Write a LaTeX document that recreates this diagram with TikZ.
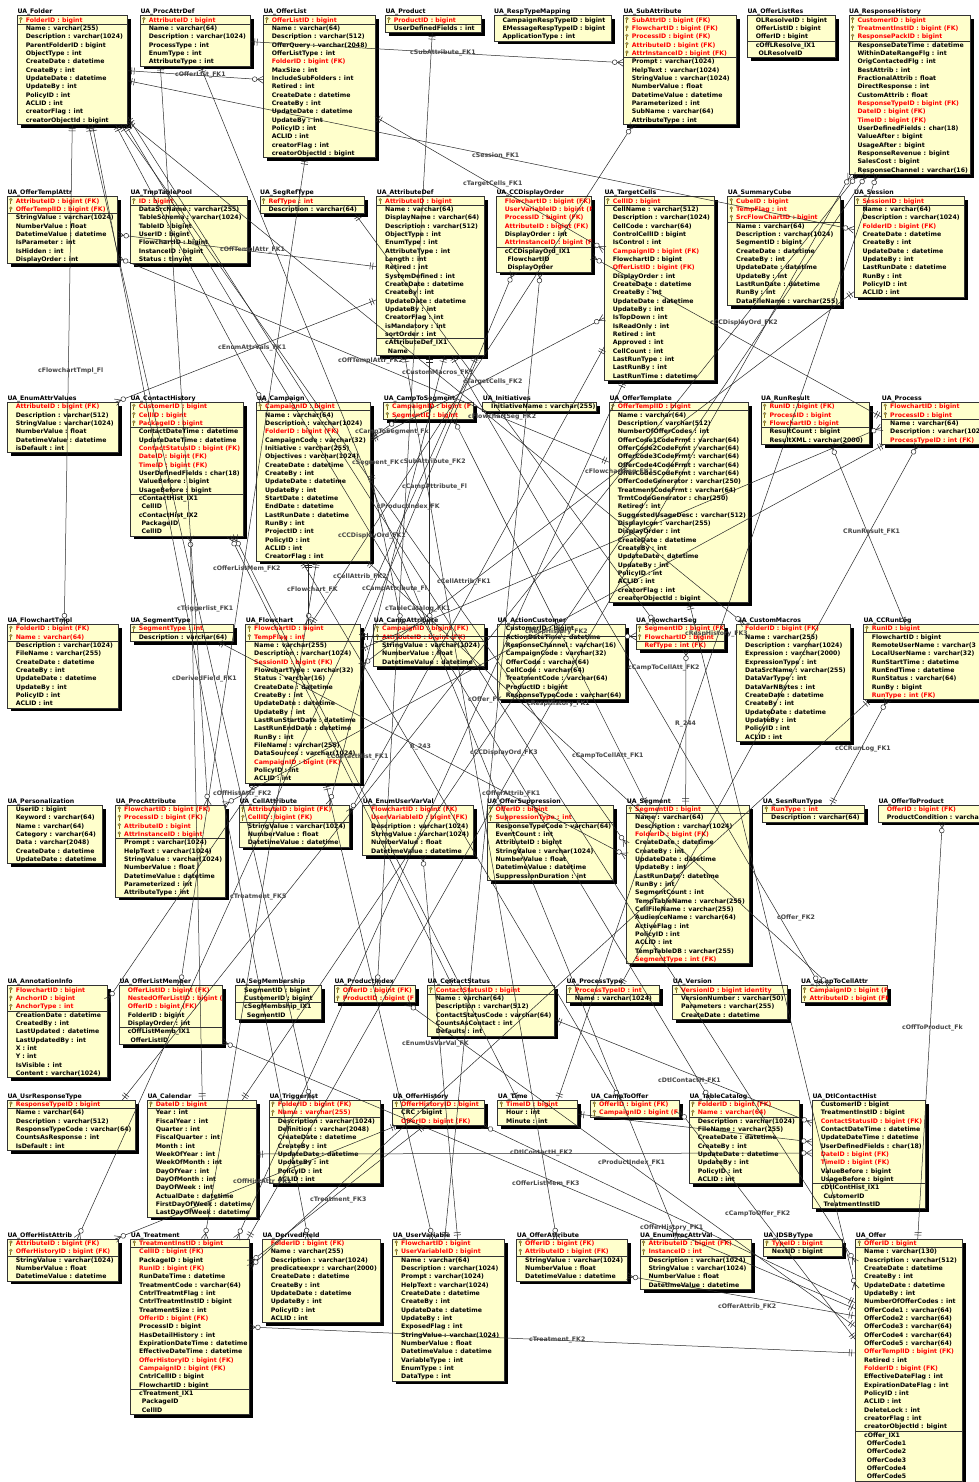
\documentclass[tikz,border=0pt]{standalone}
\usepackage{fontspec}
\setmainfont{DejaVu Sans}
\usetikzlibrary{shadows,decorations.markings}
\definecolor{boxfill}{RGB}{255,255,204}
\definecolor{lblc}{RGB}{70,70,70}
\definecolor{keyc}{RGB}{190,160,40}
\definecolor{lnc}{RGB}{40,40,40}
\def\rtk{k}\def\rtr{r}\def\rtb{b}\def\rti{i}
\tikzset{
 tbox/.style={draw=black!80, line width=0.6pt, fill=boxfill, inner sep=0pt, outer sep=0pt,
   drop shadow={shadow xshift=3.5pt, shadow yshift=-3.5pt, fill=black, opacity=1}},
 ttl/.style={font=\bfseries\fontsize{6.2}{7}\selectfont, inner sep=0pt, anchor=base west},
 rowb/.style={font=\bfseries\fontsize{6.2}{7}\selectfont, inner sep=0pt, anchor=base west, text=black},
 rowk/.style={rowb, text=red},
 rowr/.style={rowb, text=red},
 rowi/.style={rowb, xshift=2.7pt},
 sepl/.style={draw=black!80, line width=0.6pt},
 lbl/.style={font=\bfseries\fontsize{6.2}{7}\selectfont, text=lblc, inner sep=0pt, anchor=west},
 lk/.style={draw=lnc, line width=0.5pt},
 rel/.style={lk, postaction={decorate, decoration={markings,
   mark=at position 0 with {\draw[lk] (4,-3.5)--(4,3.5) (6.5,-3.5)--(6.5,3.5);},
   mark=at position 1 with {\draw[lk] (-6,0)--(0,3.5) (-6,0)--(0,-3.5); \draw[lk,fill=white] (-8.6,0) circle (2.4);}}}},
}
\newcommand\keyicon[2]{\fill[keyc,draw=black!60,line width=0.25pt] ({#1},{#2-1.3}) circle (1.45);
 \draw[keyc!70!black,line width=0.9pt] ({#1},{#2+0.1})--({#1},{#2+2.9});}
\newcommand\tbl[8]{%
 \pgfmathsetmacro\tblh{8.6+(#6-1)*8.333}%
 \node[tbox, anchor=north west, minimum width=#5pt, minimum height=\tblh pt] (#1) at (#3,#4) {};
 \node[ttl] (#1-t) at (#3,{#4-1.8}) {#2};
 \begin{scope}
  \clip (#3,#4) rectangle ++(#5,\tblh);
  \foreach \t/\s [count=\i] in {#8} {%
   \pgfmathsetmacro\ry{#4+4.3+(\i-1)*8.333}%
   \edef\rt{\t}%
   \ifx\rt\rtk \keyicon{#3+3.6}{\ry}\node[rowk] (#1-r\i) at ({#3+8.3},{\ry+2.2}) {\s};\fi
   \ifx\rt\rtr \node[rowr] (#1-r\i) at ({#3+8.3},{\ry+2.2}) {\s};\fi
   \ifx\rt\rtb \node[rowb] (#1-r\i) at ({#3+8.3},{\ry+2.2}) {\s};\fi
   \ifx\rt\rti \node[rowi] (#1-r\i) at ({#3+8.3},{\ry+2.2}) {\s};\fi
  }
  \foreach \k in {#7} {\ifnum\k>0 \draw[sepl] (#3,{#4+0.15+\k*8.333}) -- ++(#5,0);\fi}
 \end{scope}
}
\newcommand\PE[2]{([yshift=-#2pt]#1.north east)}
\newcommand\PW[2]{([yshift=-#2pt]#1.north west)}
\newcommand\PN[2]{([xshift=#2pt]#1.north west)}
\newcommand\PS[2]{([xshift=#2pt]#1.south west)}
\begin{document}
\begin{tikzpicture}[x=1pt,y=-1pt]
\fill[white] (0,0) rectangle (979,1482);
\useasboundingbox (0,0) rectangle (979,1482);

% ---------- row 1
\tbl{folder}{UA\_Folder}{17.3}{15.7}{110.4}{13}{1}{k/FolderID : bigint, b/Name : varchar(255), b/Description : varchar(1024), b/ParentFolderID : bigint, b/ObjectType : int, b/CreateDate : datetime, b/CreateBy : int, b/UpdateDate : datetime, b/UpdateBy : int, b/PolicyID : int, b/ACLID : int, b/creatorFlag : int, b/creatorObjectId : bigint}
\tbl{procattrdef}{UA\_ProcAttrDef}{140.3}{15.7}{110.4}{6}{1}{k/AttributeID : bigint, b/Name : varchar(64), b/Description : varchar(1024), b/ProcessType : int, b/EnumType : int, b/AttributeType : int}
\tbl{offerlist}{UA\_OfferList}{263.3}{15.7}{111.7}{17}{1}{k/OfferListID : bigint, b/Name : varchar(64), b/Description : varchar(512), b/OfferQuery : varchar(2048), b/OfferListType : int, r/FolderID : bigint (FK), b/MaxSize : int, b/IncludeSubFolders : int, b/Retired : int, b/CreateDate : datetime, b/CreateBy : int, b/UpdateDate : datetime, b/UpdateBy : int, b/PolicyID : int, b/ACLID : int, b/creatorFlag : int, b/creatorObjectId : bigint}
\tbl{product}{UA\_Product}{385.3}{15.7}{96.4}{2}{1}{k/ProductID : bigint, b/UserDefinedFields : int}
\tbl{resptypemapping}{UA\_RespTypeMapping}{494}{15.7}{117}{3}{0}{b/CampaignRespTypeID : bigint, b/EMessageRespTypeID : bigint, b/ApplicationType : int}
\tbl{subattribute}{UA\_SubAttribute}{623.3}{15.7}{113.4}{13}{5}{k/SubAttrID : bigint (FK), k/FlowchartID : bigint (FK), k/ProcessID : bigint (FK), k/AttributeID : bigint (FK), k/AttrInstanceID : bigint (FK), b/Prompt : varchar(1024), b/HelpText : varchar(1024), b/StringValue : varchar(1024), b/NumberValue : float, b/DatetimeValue : datetime, b/Parameterized : int, b/SubName : varchar(64), b/AttributeType : int}
\tbl{offerlistres}{UA\_OfferListRes}{747.3}{15.7}{87.7}{5}{3}{b/OLResolveID : bigint, b/OfferListID : bigint, b/OfferID : bigint, b/cOffLResolve\_IX1, i/OLResolveID}
\tbl{responsehistory}{UA\_ResponseHistory}{849}{15.7}{121.7}{19}{3}{k/CustomerID : bigint, k/TreatmentInstID : bigint (FK), k/ResponsePackID : bigint, b/ResponseDateTime : datetime, b/WithinDateRangeFlg : int, b/OrigContactedFlg : int, b/BestAttrib : int, b/FractionalAttrib : float, b/DirectResponse : int, b/CustomAttrib : float, r/ResponseTypeID : bigint (FK), r/DateID : bigint (FK), r/TimeID : bigint (FK), b/UserDefinedFields : char(18), b/ValueAfter : bigint, b/UsageAfter : bigint, b/ResponseRevenue : bigint, b/SalesCost : bigint, b/ResponseChannel : varchar(16)}

% ---------- row 2
\tbl{offertemplattr}{UA\_OfferTemplAttr}{7.3}{196.7}{110.4}{8}{2}{k/AttributeID : bigint (FK), k/OfferTemplID : bigint (FK), b/StringValue : varchar(1024), b/NumberValue : float, b/DatetimeValue : datetime, b/IsParameter : int, b/IsHidden : int, b/DisplayOrder : int}
\tbl{tmptablepool}{UA\_TmpTablePool}{130.3}{196.7}{117.4}{8}{1}{k/ID : bigint, b/DataSrcName : varchar(255), b/TableSchema : varchar(1024), b/TableID : bigint, b/UserID : bigint, b/FlowchartID : bigint, b/InstanceID : bigint, b/Status : tinyint}
\tbl{segreftype}{UA\_SegRefType}{260}{196.7}{104.3}{2}{1}{k/RefType : int, b/Description : varchar(64)}
\tbl{attributedef}{UA\_AttributeDef}{376.7}{196.7}{107.3}{19}{1,17}{k/AttributeID : bigint, b/Name : varchar(64), b/DisplayName : varchar(64), b/Description : varchar(512), b/ObjectType : int, b/EnumType : int, b/AttributeType : int, b/Length : int, b/Retired : int, b/SystemDefined : int, b/CreateDate : datetime, b/CreateBy : int, b/UpdateDate : datetime, b/UpdateBy : int, b/CreatorFlag : int, b/isMandatory : int, b/sortOrder : int, b/cAttributeDef\_IX1, i/Name}
\tbl{ccdisplayorder}{UA\_CCDisplayOrder}{496.3}{196.7}{95.4}{9}{6}{r/FlowchartID : bigint (FK), r/UserVariableID : bigint (F, r/ProcessID : bigint (FK), r/AttributeID : bigint (FK), b/DisplayOrder : int, r/AttrInstanceID : bigint (F, b/cCCDisplayOrd\_IX1, i/FlowchartID, i/DisplayOrder}
\tbl{targetcells}{UA\_TargetCells}{604.3}{196.7}{109.7}{22}{1}{k/CellID : bigint, b/CellName : varchar(512), b/Description : varchar(1024), b/CellCode : varchar(64), b/ControlCellID : bigint, b/IsControl : int, r/CampaignID : bigint (FK), b/FlowchartID : bigint, r/OfferListID : bigint (FK), b/DisplayOrder : int, b/CreateDate : datetime, b/CreateBy : int, b/UpdateDate : datetime, b/UpdateBy : int, b/IsTopDown : int, b/IsReadOnly : int, b/Retired : int, b/Approved : int, b/CellCount : int, b/LastRunType : int, b/LastRunBy : int, b/LastRunTime : datetime}
\tbl{summarycube}{UA\_SummaryCube}{727.7}{196.7}{112.3}{13}{3}{k/CubeID : bigint, k/TempFlag : int, k/SrcFlowChartID : bigint, b/Name : varchar(64), b/Description : varchar(1024), b/SegmentID : bigint, b/CreateDate : datetime, b/CreateBy : int, b/UpdateDate : datetime, b/UpdateBy : int, b/LastRunDate : datetime, b/RunBy : int, b/DataFileName : varchar(255)}
\tbl{session}{UA\_Session}{854}{196.7}{110}{12}{1}{k/SessionID : bigint, b/Name : varchar(64), b/Description : varchar(1024), r/FolderID : bigint (FK), b/CreateDate : datetime, b/CreateBy : int, b/UpdateDate : datetime, b/UpdateBy : int, b/LastRunDate : datetime, b/RunBy : int, b/PolicyID : int, b/ACLID : int}

% ---------- row 3
\tbl{enumattrvalues}{UA\_EnumAttrValues}{7.3}{402.3}{111}{6}{0}{r/AttributeID : bigint (FK), b/Description : varchar(512), b/StringValue : varchar(1024), b/NumberValue : float, b/DatetimeValue : datetime, b/isDefault : int}
\tbl{contacthistory}{UA\_ContactHistory}{130.3}{402.3}{113.4}{16}{3,11}{k/CustomerID : bigint, k/CellID : bigint, k/PackageID : bigint, b/ContactDateTime : datetime, b/UpdateDateTime : datetime, r/ContactStatusID : bigint (FK), r/DateID : bigint (FK), r/TimeID : bigint (FK), b/UserDefinedFields : char(18), b/ValueBefore : bigint, b/UsageBefore : bigint, b/cContactHist\_IX1, i/CellID, b/cContactHist\_IX2, i/PackageID, i/CellID}
\tbl{campaign}{UA\_Campaign}{256.7}{402.3}{114}{19}{1}{k/CampaignID : bigint, b/Name : varchar(64), b/Description : varchar(1024), r/FolderID : bigint (FK), b/CampaignCode : varchar(32), b/Initiative : varchar(255), b/Objectives : varchar(1024), b/CreateDate : datetime, b/CreateBy : int, b/UpdateDate : datetime, b/UpdateBy : int, b/StartDate : datetime, b/EndDate : datetime, b/LastRunDate : datetime, b/RunBy : int, b/ProjectID : int, b/PolicyID : int, b/ACLID : int, b/CreatorFlag : int}
\tbl{camptosegment}{UA\_CampToSegment}{383.7}{402.3}{89.3}{2}{0}{k/CampaignID : bigint (F, k/SegmentID : bigint}
\tbl{initiatives}{UA\_Initiatives}{482.7}{402.3}{114}{1}{0}{b/InitiativeName : varchar(255)}
\tbl{offertemplate}{UA\_OfferTemplate}{609.3}{402.3}{139}{24}{1}{k/OfferTemplID : bigint, b/Name : varchar(64), b/Description : varchar(512), b/NumberOfOfferCodes : int, b/OfferCode1CodeFrmt : varchar(64), b/OfferCode2CodeFrmt : varchar(64), b/OfferCode3CodeFrmt : varchar(64), b/OfferCode4CodeFrmt : varchar(64), b/OfferCode5CodeFrmt : varchar(64), b/OfferCodeGenerator : varchar(250), b/TreatmentCodeFrmt : varchar(64), b/TrmtCodeGenerator : char(250), b/Retired : int, b/SuggestedUsageDesc : varchar(512), b/DisplayIcon : varchar(255), b/DisplayOrder : int, b/CreateDate : datetime, b/CreateBy : int, b/UpdateDate : datetime, b/UpdateBy : int, b/PolicyID : int, b/ACLID : int, b/creatorFlag : int, b/creatorObjectId : bigint}
\tbl{runresult}{UA\_RunResult}{761}{402.3}{108}{5}{3}{k/RunID : bigint (FK), k/ProcessID : bigint, k/FlowchartID : bigint, b/ResultCount : bigint, b/ResultXML : varchar(2000)}
\tbl{process}{UA\_Process}{881.7}{402.3}{103}{5}{2}{k/FlowchartID : bigint, k/ProcessID : bigint, b/Name : varchar(64), b/Description : varchar(102, r/ProcessTypeID : int (FK)}

% ---------- row 4
\tbl{flowcharttmpl}{UA\_FlowchartTmpl}{7.3}{624.3}{111}{10}{2}{k/FolderID : bigint (FK), k/Name : varchar(64), b/Description : varchar(1024), b/FileName : varchar(255), b/CreateDate : datetime, b/CreateBy : int, b/UpdateDate : datetime, b/UpdateBy : int, b/PolicyID : int, b/ACLID : int}
\tbl{segmenttype}{UA\_SegmentType}{130.3}{624.3}{103}{2}{1}{k/SegmentType : int, b/Description : varchar(64)}
\tbl{flowchart}{UA\_Flowchart}{245.7}{624.3}{115}{19}{2}{k/FlowchartID : bigint, k/TempFlag : int, b/Name : varchar(255), b/Description : varchar(1024), r/SessionID : bigint (FK), b/FlowchartType : varchar(32), b/Status : varchar(16), b/CreateDate : datetime, b/CreateBy : int, b/UpdateDate : datetime, b/UpdateBy : int, b/LastRunStartDate : datetime, b/LastRunEndDate : datetime, b/RunBy : int, b/FileName : varchar(255), b/DataSources : varchar(1024), r/CampaignID : bigint (FK), b/PolicyID : int, b/ACLID : int}
\tbl{campattribute}{UA\_CampAttribute}{373.7}{624.3}{110.3}{5}{2}{k/CampaignID : bigint (FK), k/AttributeID : bigint (FK), b/StringValue : varchar(1024), b/NumberValue : float, b/DatetimeValue : datetime}
\tbl{actioncustomer}{UA\_ActionCustomer}{497.3}{624.3}{127.7}{9}{0}{b/CustomerID : bigint, b/ActionDateTime : datetime, b/ResponseChannel : varchar(16), b/CampaignCode : varchar(32), b/OfferCode : varchar(64), b/CellCode : varchar(64), b/TreatmentCode : varchar(64), b/ProductID : bigint, b/ResponseTypeCode : varchar(64)}
\tbl{flowchartseg}{UA\_FlowchartSeg}{636}{624.3}{88.7}{3}{2}{k/SegmentID : bigint (FK, k/FlowchartID : bigint, r/RefType : int (FK)}
\tbl{custommacros}{UA\_CustomMacros}{736.7}{624.3}{113.3}{14}{0}{r/FolderID : bigint (FK), b/Name : varchar(255), b/Description : varchar(1024), b/Expression : varchar(2000), b/ExpressionType : int, b/DataSrcName : varchar(255), b/DataVarType : int, b/DataVarNBytes : int, b/CreateDate : datetime, b/CreateBy : int, b/UpdateDate : datetime, b/UpdateBy : int, b/PolicyID : int, b/ACLID : int}
\tbl{ccrunlog}{UA\_CCRunLog}{863.3}{624.3}{122}{9}{1}{k/RunID : bigint, b/FlowchartID : bigint, b/RemoteUserName : varchar(3, b/LocalUserName : varchar(32), b/RunStartTime : datetime, b/RunEndTime : datetime, b/RunStatus : varchar(64), b/RunBy : bigint, r/RunType : int (FK)}

% ---------- row 5
\tbl{personalization}{UA\_Personalization}{7.3}{805}{95.4}{7}{0}{b/UserID : bigint, b/Keyword : varchar(64), b/Name : varchar(64), b/Category : varchar(64), b/Data : varchar(2048), b/CreateDate : datetime, b/UpdateDate : datetime}
\tbl{procattribute}{UA\_ProcAttribute}{115.7}{805}{110}{11}{4}{k/FlowchartID : bigint (FK), k/ProcessID : bigint (FK), k/AttributeID : bigint, k/AttrInstanceID : bigint, b/Prompt : varchar(1024), b/HelpText : varchar(1024), b/StringValue : varchar(1024), b/NumberValue : float, b/DatetimeValue : datetime, b/Parameterized : int, b/AttributeType : int}
\tbl{cellattribute}{UA\_CellAttribute}{239.3}{805}{110}{5}{2}{k/AttributeID : bigint (FK), k/CellID : bigint (FK), b/StringValue : varchar(1024), b/NumberValue : float, b/DatetimeValue : datetime}
\tbl{enumuservarval}{UA\_EnumUserVarVal}{362.7}{805}{110.6}{6}{0}{r/FlowchartID : bigint (FK), r/UserVariableID : bigint (FK), b/Description : varchar(1024), b/StringValue : varchar(1024), b/NumberValue : float, b/DatetimeValue : datetime}
\tbl{offersuppression}{UA\_OfferSuppression}{487}{805}{126.7}{9}{2}{k/OfferID : bigint, k/SuppressionType : int, b/ResponseTypeCode : varchar(64), b/EventCount : int, b/AttributeID : bigint, b/StringValue : varchar(1024), b/NumberValue : float, b/DatetimeValue : datetime, b/SuppressionDuration : int}
\tbl{segment}{UA\_Segment}{626.7}{805}{123}{19}{1}{k/SegmentID : bigint, b/Name : varchar(64), b/Description : varchar(1024), r/FolderID : bigint (FK), b/CreateDate : datetime, b/CreateBy : int, b/UpdateDate : datetime, b/UpdateBy : int, b/LastRunDate : datetime, b/RunBy : int, b/SegmentCount : int, b/TempTableName : varchar(255), b/CellFileName : varchar(255), b/AudienceName : varchar(64), b/ActiveFlag : int, b/PolicyID : int, b/ACLID : int, b/TempTableDB : varchar(255), r/SegmentType : int (FK)}
\tbl{sesnruntype}{UA\_SesnRunType}{762.7}{805}{101.6}{2}{1}{k/RunType : int, b/Description : varchar(64)}
\tbl{offertoproduct}{UA\_OfferToProduct}{878.3}{805}{106.7}{2}{0}{r/OfferID : bigint (FK), b/ProductCondition : varcha}

% ---------- row 6
\tbl{annotationinfo}{UA\_AnnotationInfo}{7.3}{985.7}{100}{11}{3}{k/FlowchartID : bigint, k/AnchorID : bigint, k/AnchorType : int, b/CreationDate : datetime, b/CreatedBy : int, b/LastUpdated : datetime, b/LastUpdatedBy : int, b/X : int, b/Y : int, b/IsVisible : int, b/Content : varchar(1024)}
\tbl{offerlistmember}{UA\_OfferListMember}{119.3}{985.7}{103}{7}{5}{r/OfferListID : bigint (FK), r/NestedOfferListID : bigint (F, r/OfferID : bigint (FK), b/FolderID : bigint, b/DisplayOrder : int, b/cOffListMemb\_IX1, i/OfferListID}
\tbl{segmembership}{UA\_SegMembership}{235.7}{985.7}{85.3}{4}{2}{b/SegmentID : bigint, b/CustomerID : bigint, b/cSegMembship\_IX1, i/SegmentID}
\tbl{productindex}{UA\_ProductIndex}{334.3}{985.7}{80.7}{2}{0}{k/OfferID : bigint (FK), k/ProductID : bigint (F}
\tbl{contactstatus}{UA\_ContactStatus}{427.3}{985.7}{127.4}{6}{1}{k/ContactStatusID : bigint, b/Name : varchar(64), b/Description : varchar(512), b/ContactStatusCode : varchar(64), b/CountsAsContact : int, b/Defaults : int}
\tbl{processtype}{UA\_ProcessType}{566.3}{985.7}{93}{2}{1}{k/ProcessTypeID : int, b/Name : varchar(1024)}
\tbl{version}{UA\_Version}{672.7}{985.7}{115}{4}{1}{k/VersionID : bigint identity, b/VersionNumber : varchar(50), b/Parameters : varchar(255), b/CreateDate : datetime}
\tbl{camptocellattr}{UA\_CampToCellAttr}{801}{985.7}{86.7}{2}{0}{k/CampaignID : bigint (F, k/AttributeID : bigint (FK}

% ---------- row 7
\tbl{usrresponsetype}{UA\_UsrResponseType}{7.3}{1100}{127.7}{6}{1}{k/ResponseTypeID : bigint, b/Name : varchar(64), b/Description : varchar(512), b/ResponseTypeCode : varchar(64), b/CountsAsResponse : int, b/IsDefault : int}
\tbl{calendar}{UA\_Calendar}{147.3}{1100}{108.7}{14}{1}{k/DateID : bigint, b/Year : int, b/FiscalYear : int, b/Quarter : int, b/FiscalQuarter : int, b/Month : int, b/WeekOfYear : int, b/WeekOfMonth : int, b/DayOfYear : int, b/DayOfMonth : int, b/DayOfWeek : int, b/ActualDate : datetime, b/FirstDayOfWeek : datetime, b/LastDayOfWeek : datetime}
\tbl{triggerlist}{UA\_Triggerlist}{269.3}{1100}{110.7}{10}{2}{k/FolderID : bigint (FK), k/Name : varchar(255), b/Description : varchar(1024), b/Definition : varchar(2048), b/CreateDate : datetime, b/CreateBy : int, b/UpdateDate : datetime, b/UpdateBy : int, b/PolicyID : int, b/ACLID : int}
\tbl{offerhistory}{UA\_OfferHistory}{392.7}{1100}{92}{3}{1}{k/OfferHistoryID : bigint, b/CRC : bigint, r/OfferID : bigint (FK)}
\tbl{time}{UA\_Time}{497.7}{1100}{79.6}{3}{1}{k/TimeID : bigint, b/Hour : int, b/Minute : int}
\tbl{camptooffer}{UA\_CampToOffer}{590.7}{1100}{88.3}{2}{0}{k/OfferID : bigint (FK), k/CampaignID : bigint (F}
\tbl{tablecatalog}{UA\_TableCatalog}{689.3}{1100}{109.7}{10}{2}{k/FolderID : bigint (FK), k/Name : varchar(64), b/Description : varchar(1024), b/FileName : varchar(255), b/CreateDate : datetime, b/CreateBy : int, b/UpdateDate : datetime, b/UpdateBy : int, b/PolicyID : int, b/ACLID : int}
\tbl{dtlcontacthist}{UA\_DtlContactHist}{812.3}{1100}{113.4}{13}{10}{b/CustomerID : bigint, b/TreatmentInstID : bigint, r/ContactStatusID : bigint (FK), b/ContactDateTime : datetime, b/UpdateDateTime : datetime, b/UserDefinedFields : char(18), r/DateID : bigint (FK), r/TimeID : bigint (FK), b/ValueBefore : bigint, b/UsageBefore : bigint, b/cDtlContHist\_IX1, i/CustomerID, i/TreatmentInstID}

% ---------- row 8
\tbl{offerhistattrib}{UA\_OfferHistAttrib}{7.3}{1239}{111}{5}{2}{k/AttributeID : bigint (FK), k/OfferHistoryID : bigint (FK), b/StringValue : varchar(1024), b/NumberValue : float, b/DatetimeValue : datetime}
\tbl{treatment}{UA\_Treatment}{130.7}{1239}{118.6}{21}{1,18}{k/TreatmentInstID : bigint, r/CellID : bigint (FK), b/PackageID : bigint, r/RunID : bigint (FK), b/RunDateTime : datetime, b/TreatmentCode : varchar(64), b/CntrlTreatmtFlag : int, b/CntrlTreatmtInstID : bigint, b/TreatmentSize : int, r/OfferID : bigint (FK), b/ProcessID : bigint, b/HasDetailHistory : int, b/ExpirationDateTime : datetime, b/EffectiveDateTime : datetime, r/OfferHistoryID : bigint (FK), r/CampaignID : bigint (FK), b/CntrlCellID : bigint, b/FlowchartID : bigint, b/cTreatment\_IX1, i/PackageID, i/CellID}
\tbl{derivedfield}{UA\_DerivedField}{262.3}{1239}{117.7}{10}{0}{r/FolderID : bigint (FK), b/Name : varchar(255), b/Description : varchar(1024), b/predicateexpr : varchar(2000), b/CreateDate : datetime, b/CreateBy : int, b/UpdateDate : datetime, b/UpdateBy : int, b/PolicyID : int, b/ACLID : int}
\tbl{uservariable}{UA\_UserVariable}{392.7}{1239}{111.3}{17}{2}{k/FlowchartID : bigint, k/UserVariableID : bigint, b/Name : varchar(64), b/Description : varchar(1024), b/Prompt : varchar(1024), b/HelpText : varchar(1024), b/CreateDate : datetime, b/CreateBy : int, b/UpdateDate : datetime, b/UpdateBy : int, b/ExposedFlag : int, b/StringValue : varchar(1024), b/NumberValue : float, b/DatetimeValue : datetime, b/VariableType : int, b/EnumType : int, b/DataType : int}
\tbl{offerattribute}{UA\_OfferAttribute}{516.7}{1239}{110.3}{5}{2}{k/OfferID : bigint (FK), k/AttributeID : bigint (FK), b/StringValue : varchar(1024), b/NumberValue : float, b/DatetimeValue : datetime}
\tbl{enumprocattrval}{UA\_EnumProcAttrVal}{640}{1239}{111.7}{6}{2}{k/AttributeID : bigint (FK), k/InstanceID : int, b/Description : varchar(1024), b/StringValue : varchar(1024), b/NumberValue : float, b/DatetimeValue : datetime}
\tbl{idsbytype}{UA\_IDSByType}{763.3}{1239}{79.4}{2}{1}{k/TypeID : bigint, b/NextID : bigint}
\tbl{offer}{UA\_Offer}{855.7}{1239}{107}{29}{1,23}{k/OfferID : bigint, b/Name : varchar(130), b/Description : varchar(512), b/CreateDate : datetime, b/CreateBy : int, b/UpdateDate : datetime, b/UpdateBy : int, b/NumberOfOfferCodes : int, b/OfferCode1 : varchar(64), b/OfferCode2 : varchar(64), b/OfferCode3 : varchar(64), b/OfferCode4 : varchar(64), b/OfferCode5 : varchar(64), r/OfferTemplID : bigint (FK), b/Retired : int, r/FolderID : bigint (FK), b/EffectiveDateFlag : int, b/ExpirationDateFlag : int, b/PolicyID : int, b/ACLID : int, b/DeleteLock : int, b/creatorFlag : int, b/creatorObjectId : bigint, b/cOffer\_IX1, i/OfferCode1, i/OfferCode2, i/OfferCode3, i/OfferCode4, i/OfferCode5}

% ---------- connectors (parent -> child)
\draw[rel] \PE{procattrdef}{26} -- \PW{subattribute}{47};
\draw[rel] \PE{folder}{55} -- \PW{offerlist}{64};
\draw[rel] \PE{folder}{65} -- \PW{session}{33};
\draw[rel] \PS{folder}{55} -- \PN{flowcharttmpl}{57};
\draw[rel] \PS{offerlist}{42} -- \PN{offerlistmember}{61};
\draw[rel] \PE{offerlist}{101} -- \PW{targetcells}{53};
\draw[rel] \PE{campaign}{38} -- \PW{targetcells}{121};
\draw[rel] \PW{attributedef}{70} -- \PE{offertemplattr}{38};
\draw[rel] \PW{offertemplate}{60} -- \PE{offertemplattr}{61};
\draw[rel] \PW{attributedef}{103} -- \PN{enumattrvalues}{108};
\draw[rel] \PS{product}{47} -- \PN{productindex}{43};
\draw[rel] \PN{ccrunlog}{42} -- \PS{runresult}{70};
\draw[rel] \PN{processtype}{54} -- \PS{process}{36};
\draw[rel] \PS{folder}{98} -- \PN{campaign}{6};
\draw[rel] \PS{folder}{103} -- \PW{segment}{40};
\draw[rel] \PE{folder}{101} -- \PW{offer}{24};
\draw[rel] \PW{session}{95} -- \PE{flowchart}{42};
\draw[rel] \PS{process}{3} -- \PN{procattribute}{108};
\draw[rel] \PS{segreftype}{95} -- \PN{flowchartseg}{20};
\draw[rel] \PN{segment}{59} -- \PS{flowchartseg}{50};
\draw[rel] \PE{flowchart}{12} -- \PW{flowchartseg}{12};
\draw[rel] \PE{campaign}{36} -- \PS{camptosegment}{15};
\draw[rel] \PN{segment}{20} -- \PS{camptosegment}{70};
\draw[rel] \PE{campaign}{70} -- \PN{campattribute}{28};
\draw[rel] \PS{attributedef}{53} -- \PN{campattribute}{56};
\draw[rel] \PS{attributedef}{68} -- \PN{cellattribute}{90};
\draw[rel] \PW{targetcells}{150} -- \PE{cellattribute}{8};
\draw[rel] \PS{attributedef}{28} -- \PN{offerattribute}{40};
\draw[rel] \PS{attributedef}{100} -- \PN{offerhistattrib}{70};
\draw[rel] \PS{offerhistory}{5} -- \PN{offerhistattrib}{108};
\draw[rel] \PW{offer}{64} -- \PS{offerhistory}{90};
\draw[rel] \PW{offer}{77} -- \PE{offerattribute}{37};
\draw[rel] \PW{offer}{88} -- \PS{productindex}{72};
\draw[rel] \PW{offer}{101} -- \PE{camptooffer}{10};
\draw[rel] \PW{offer}{114} -- \PE{treatment}{88};
\draw[rel] \PW{offer}{70} -- \PE{offerlistmember}{56};
\draw[rel] \PN{offer}{62} -- \PS{offertoproduct}{64};
\draw[rel] \PS{attributedef}{75} -- \PN{camptocellattr}{19};
\draw[rel] \PS{campaign}{110} -- \PN{camptocellattr}{29};
\draw[rel] \PN{calendar}{55} -- \PS{contacthistory}{60};
\draw[rel] \PN{time}{20} -- \PS{contacthistory}{104};
\draw[rel] \PN{contactstatus}{25} -- \PS{contacthistory}{100};
\draw[rel] \PN{treatment}{117} -- \PS{responsehistory}{2};
\draw[rel] \PN{usrresponsetype}{115} -- \PS{responsehistory}{9};
\draw[rel] \PN{calendar}{95} -- \PS{responsehistory}{18};
\draw[rel] \PN{time}{60} -- \PS{responsehistory}{28};
\draw[rel] \PE{calendar}{54} -- \PW{dtlcontacthist}{53};
\draw[rel] \PE{time}{14} -- \PW{dtlcontacthist}{42};
\draw[rel] \PE{contactstatus}{34} -- \PW{dtlcontacthist}{23};
\draw[rel] \PN{sesnruntype}{68} -- \PS{ccrunlog}{24};
\draw[rel] \PS{offertemplate}{80} -- \PW{offer}{50};
\draw[rel] \PN{flowchart}{65} -- \PS{subattribute}{10};
\draw[rel] \PE{flowchart}{15} -- \PS{ccdisplayorder}{17};
\draw[rel] \PN{uservariable}{52} -- \PS{ccdisplayorder}{44};
\draw[rel] \PW{process}{15} -- \PE{ccdisplayorder}{60};
\draw[rel] \PN{uservariable}{65} -- \PS{enumuservarval}{60};
\draw[rel] \PS{folder}{108} -- \PN{tablecatalog}{21};
\draw[rel] \PS{folder}{71} -- \PN{triggerlist}{41};
\draw[rel] \PS{folder}{75} -- \PN{derivedfield}{46};
\draw[rel] \PE{folder}{106} -- \PN{custommacros}{8};
\draw[rel] \PS{segmenttype}{87} -- \PW{segment}{51};
\draw[rel] \PS{campaign}{52} -- \PN{flowchart}{63};
\draw[rel] \PS{campaign}{60} -- \PN{treatment}{74};
\draw[rel] \PS{targetcells}{20} -- \PN{treatment}{106};
\draw[rel] \PS{offerhistory}{32} -- \PE{treatment}{24};
\draw[rel] \PS{ccrunlog}{7} -- \PE{treatment}{29};
\draw[rel] \PS{campaign}{45} -- \PN{camptooffer}{30};
\draw[rel] \PS{procattrdef}{20} -- \PN{procattribute}{92};
\draw[rel] \PS{procattrdef}{60} -- \PN{enumprocattrval}{38};
\draw[rel] \PS{flowchart}{10} -- \PE{annotationinfo}{15};
\draw[rel] \PS{flowchart}{80} -- \PN{uservariable}{40};
\draw[rel] \PE{flowchart}{25} -- \PW{process}{25};

% ---------- relationship labels
\node[lbl] (l1) at (175,75) {cOfferList\_FK1};
\node[lbl] (l2) at (410,53) {cSubAttribute\_FK1};
\node[lbl] (l3) at (472,156) {cSession\_FK1};
\node[lbl] (l4) at (463,184) {cTargetCells\_FK1};
\node[lbl] (l5) at (220,250) {cOffTemplAttr\_FK1};
\node[lbl] (l6) at (338,361) {cOffTemplAttr\_FK2};
\node[lbl] (l7) at (402,373) {cCustomMacros\_FK1};
\node[lbl] (l8) at (218,348) {cEnumAttrVals\_FK1};
\node[lbl] (l9) at (38,371) {cFlowchartTmpl\_Fl};
\node[lbl] (l10) at (710,323) {cCCDisplayOrd\_FK2};
\node[lbl] (l11) at (463,382) {cTargetCells\_FK2};
\node[lbl] (l12) at (468,417) {cFlowchartSeg\_FK2};
\node[lbl] (l13) at (355,432) {cCampToSegment\_Fk};
\node[lbl] (l14) at (352,463) {cSegment\_FK};
\node[lbl] (l15) at (400,462) {cSubAttribute\_FK2};
\node[lbl] (l16) at (585,472) {cFlowchartSeg\_FK1};
\node[lbl] (l17) at (402,487) {cCampAttribute\_Fl};
\node[lbl] (l18) at (377,507) {cProductIndex\_FK};
\node[lbl] (l19) at (338,536) {cCCDisplayOrd\_FK1};
\node[lbl] (l20) at (843,532) {CRunResult\_FK1};
\node[lbl] (l21) at (213,569) {cOfferListMem\_FK2};
\node[lbl] (l22) at (333,577) {cCellAttrib\_FK2};
\node[lbl] (l23) at (437,582) {cCellAttrib\_FK1};
\node[lbl] (l24) at (362,589) {cCampAttribute\_Fl};
\node[lbl] (l25) at (287,590) {cFlowchart\_FK};
\node[lbl] (l26) at (177,609) {cTriggerlist\_FK1};
\node[lbl] (l27) at (385,609) {cTableCatalog\_FK1};
\node[lbl] (l28) at (525,632) {cRespHistory\_FK2};
\node[lbl] (l29) at (685,634) {cRespHistory\_FK3};
\node[lbl] (l30) at (628,668) {cCampToCellAtt\_FK2};
\node[lbl] (l31) at (172,679) {cDerivedField\_FK1};
\node[lbl] (l32) at (468,700) {cOffer\_FK};
\node[lbl] (l33) at (527,704) {cRespHistory\_FK1};
\node[lbl] (l34) at (675,724) {R\_244};
\node[lbl] (l35) at (410,747) {R\_243};
\node[lbl] (l36) at (835,749) {cCCRunLog\_FK1};
\node[lbl] (l37) at (470,753) {cCCDisplayOrd\_FK3};
\node[lbl] (l38) at (572,756) {cCampToCellAtt\_FK1};
\node[lbl] (l39) at (327,757) {cContactHist\_FK1};
\node[lbl] (l40) at (213,794) {cOffHistAttr\_FK2};
\node[lbl] (l41) at (482,794) {cOfferAttrib\_FK1};
\node[lbl] (l42) at (230,897) {cTreatment\_FK5};
\node[lbl] (l43) at (777,918) {cOffer\_FK2};
\node[lbl] (l44) at (402,1044) {cEnumUsVarVal\_FK};
\node[lbl] (l45) at (902,1028) {cOffToProduct\_Fk};
\node[lbl] (l46) at (658,1081) {cDtlContactH\_FK1};
\node[lbl] (l47) at (510,1153) {cDtlContactH\_FK2};
\node[lbl] (l48) at (598,1163) {cProductIndex\_FK1};
\node[lbl] (l49) at (233,1182) {cOffHistAttr\_FK1};
\node[lbl] (l50) at (512,1184) {cOfferListMem\_FK3};
\node[lbl] (l51) at (310,1200) {cTreatment\_FK3};
\node[lbl] (l52) at (725,1214) {cCampToOffer\_FK2};
\node[lbl] (l53) at (640,1228) {cOfferHistory\_FK1};
\node[lbl] (l54) at (718,1307) {cOfferAttrib\_FK2};
\node[lbl] (l55) at (529,1340) {cTreatment\_FK2};
\end{tikzpicture}
\end{document}
